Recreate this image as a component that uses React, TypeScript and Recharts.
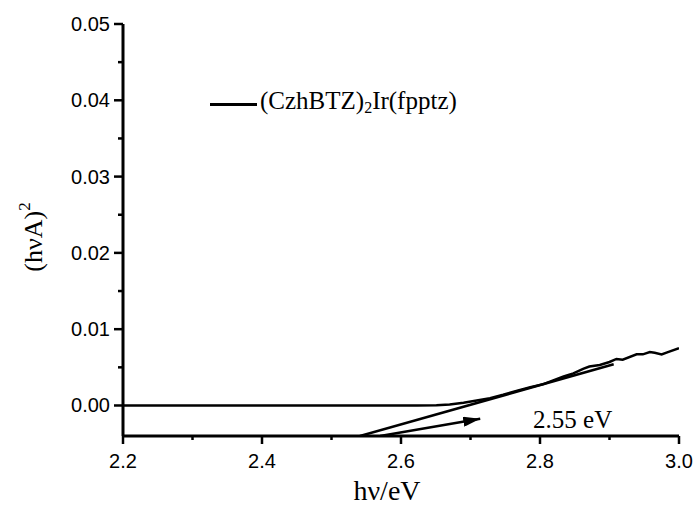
import React from "react";
import { ComposedChart, Line, XAxis, YAxis, Legend, ReferenceDot } from "recharts";

// (hvA)^2 vs photon energy
const photonEnergy = [2.2, 2.3, 2.4, 2.5, 2.6, 2.623, 2.651, 2.67, 2.69, 2.709, 2.728, 2.747, 2.766, 2.786, 2.805, 2.819, 2.834, 2.848, 2.862, 2.871, 2.886, 2.9, 2.91, 2.919, 2.939, 2.948, 2.958, 2.965, 2.975, 2.984, 3.0];
const absorption = [0, 0, 0, 0, 0, 0, 0.00004, 0.00013, 0.00035, 0.00066, 0.00096, 0.0014, 0.0019, 0.0024, 0.0028, 0.0033, 0.0038, 0.0042, 0.0048, 0.0051, 0.0053, 0.0057, 0.0061, 0.006, 0.0067, 0.0067, 0.007, 0.0069, 0.0067, 0.007, 0.0075];

// linear fit of the edge
const tangentX = [2.541, 2.906];
const tangentY = [-0.004, 0.0054];

// arrow pointing at the intercept
const arrowX = [2.57, 2.714];
const arrowY = [-0.004, -0.00175];

const xTicks = [2.2, 2.3, 2.4, 2.5, 2.6, 2.7, 2.8, 2.9, 3.0];
const yTicks = [0, 0.005, 0.01, 0.015, 0.02, 0.025, 0.03, 0.035, 0.04, 0.045, 0.05];

const seriesName = "(CzhBTZ)2Ir(fpptz)";
const bandGapLabel = "2.55 eV";
const bandGapPos = { x: 2.847, y: -0.003 };

const curveData = photonEnergy.map((x, i) => ({ x, y: absorption[i] }));
const tangentData = tangentX.map((x, i) => ({ x, y: tangentY[i] }));
const arrowData = arrowX.map((x, i) => ({ x, y: arrowY[i] }));

const SANS = "'Liberation Sans', Arial, sans-serif";
const SERIF = "'Liberation Serif', 'Times New Roman', serif";

const isMajorX = (v) => Math.round(v * 10) % 2 === 0;
const isMajorY = (v) => Math.round(v * 200) % 2 === 0;

const BottomTick = ({ x, y, payload }) => {
    const major = isMajorX(payload.value);
    return (
        <g>
            <line x1={x} x2={x} y1={y} y2={y + (major ? 8 : 4)} stroke="#000" strokeWidth={2.5} />
            {major && (
                <text x={x} y={y + 32} textAnchor="middle" fontSize={20} fontFamily={SANS} fill="#000">
                    {payload.value.toFixed(1)}
                </text>
            )}
        </g>
    );
};

const TopTick = ({ x, y, payload }) => (
    <line x1={x} x2={x} y1={y} y2={y - (isMajorX(payload.value) ? 3 : 2)} stroke="#000" strokeWidth={1.5} />
);

const LeftTick = ({ x, y, payload }) => {
    const major = isMajorY(payload.value);
    return (
        <g>
            <line x1={x - (major ? 9 : 5)} x2={x} y1={y} y2={y} stroke="#000" strokeWidth={2.5} />
            {major && (
                <text x={x - 13} y={y} textAnchor="end" dominantBaseline="central" fontSize={20} fontFamily={SANS} fill="#000">
                    {payload.value.toFixed(2)}
                </text>
            )}
        </g>
    );
};

const RightTick = ({ x, y, payload }) => (
    <line x1={x} x2={x + (isMajorY(payload.value) ? 3 : 2)} y1={y} y2={y} stroke="#000" strokeWidth={1.5} />
);

const SeriesLegend = () => (
    <div style={{ display: "flex", alignItems: "center", lineHeight: "28px", whiteSpace: "nowrap" }}>
        <span style={{ display: "inline-block", width: 47, height: 3, background: "#000", marginRight: 3 }} />
        <span style={{ fontFamily: SERIF, fontSize: 25, color: "#000" }}>
            {seriesName.slice(0, 8)}
            <sub style={{ fontSize: 16, verticalAlign: -4 }}>{seriesName.slice(8, 9)}</sub>
            {seriesName.slice(9)}
        </span>
    </div>
);

const axisStroke = { stroke: "#000", strokeWidth: 3 };

export default function App() {
    return (
        <div style={{ position: "absolute", left: 0, top: 0, background: "#fff" }}>
            <ComposedChart width={694} height={508} margin={{ top: 24, right: 15, bottom: 0, left: 0 }}>
                <defs>
                    <marker id="arrowHead" viewBox="0 0 17 10" refX="17" refY="5" markerWidth="17" markerHeight="10" markerUnits="userSpaceOnUse" orient="auto">
                        <path d="M0,0 L17,5 L0,10 z" fill="#000" />
                    </marker>
                </defs>
                <XAxis
                    dataKey="x"
                    type="number"
                    domain={[2.2, 3.0]}
                    ticks={xTicks}
                    allowDataOverflow
                    height={72}
                    axisLine={axisStroke}
                    tickLine={false}
                    tickSize={0}
                    tickMargin={0}
                    tick={BottomTick}
                    interval={0}
                    label={{
                        content: () => (
                            <text x={387} y={500} textAnchor="middle" fontSize={28} fontFamily={SERIF} fill="#000">
                                hν/eV
                            </text>
                        ),
                    }}
                />
                <XAxis
                    xAxisId="top"
                    orientation="top"
                    dataKey="x"
                    type="number"
                    domain={[2.2, 3.0]}
                    ticks={xTicks}
                    allowDataOverflow
                    height={0}
                    axisLine={axisStroke}
                    tickLine={false}
                    tickSize={0}
                    tickMargin={0}
                    tick={TopTick}
                    interval={0}
                />
                <YAxis
                    type="number"
                    domain={[-0.004, 0.05]}
                    ticks={yTicks}
                    allowDataOverflow
                    width={123}
                    axisLine={axisStroke}
                    tickLine={false}
                    tickSize={0}
                    tickMargin={0}
                    tick={LeftTick}
                    interval={0}
                    label={{
                        content: () => (
                            <text transform="rotate(-90, 42, 237)" x={42} y={237} textAnchor="middle" fontSize={26} fontFamily={SERIF} fill="#000">
                                (hνA)
                                <tspan fontSize={17} dy={-12}>2</tspan>
                            </text>
                        ),
                    }}
                />
                <YAxis
                    yAxisId="right"
                    orientation="right"
                    type="number"
                    domain={[-0.004, 0.05]}
                    ticks={yTicks}
                    allowDataOverflow
                    width={0}
                    axisLine={axisStroke}
                    tickLine={false}
                    tickSize={0}
                    tickMargin={0}
                    tick={RightTick}
                    interval={0}
                />
                <Legend
                    layout="horizontal"
                    verticalAlign="middle"
                    align="center"
                    content={SeriesLegend}
                    wrapperStyle={{ position: "absolute", left: 210, top: 87, width: "auto" }}
                />
                <Line
                    data={curveData}
                    dataKey="y"
                    name={seriesName}
                    type="linear"
                    stroke="#000"
                    strokeWidth={2.5}
                    dot={false}
                    activeDot={false}
                    isAnimationActive={false}
                />
                <Line
                    data={tangentData}
                    dataKey="y"
                    xAxisId="top"
                    yAxisId="right"
                    type="linear"
                    stroke="#000"
                    strokeWidth={2.5}
                    dot={false}
                    activeDot={false}
                    legendType="none"
                    isAnimationActive={false}
                />
                <Line
                    data={arrowData}
                    dataKey="y"
                    type="linear"
                    stroke="#000"
                    strokeWidth={2.5}
                    dot={false}
                    activeDot={false}
                    legendType="none"
                    markerEnd="url(#arrowHead)"
                    isAnimationActive={false}
                />
                <ReferenceDot
                    x={bandGapPos.x}
                    y={bandGapPos.y}
                    r={0}
                    ifOverflow="visible"
                    label={{
                        content: ({ viewBox }) => (
                            <text x={viewBox.x} y={viewBox.y} textAnchor="middle" fontSize={25} fontFamily={SERIF} fill="#000">
                                {bandGapLabel}
                            </text>
                        ),
                    }}
                />
            </ComposedChart>
        </div>
    );
}
